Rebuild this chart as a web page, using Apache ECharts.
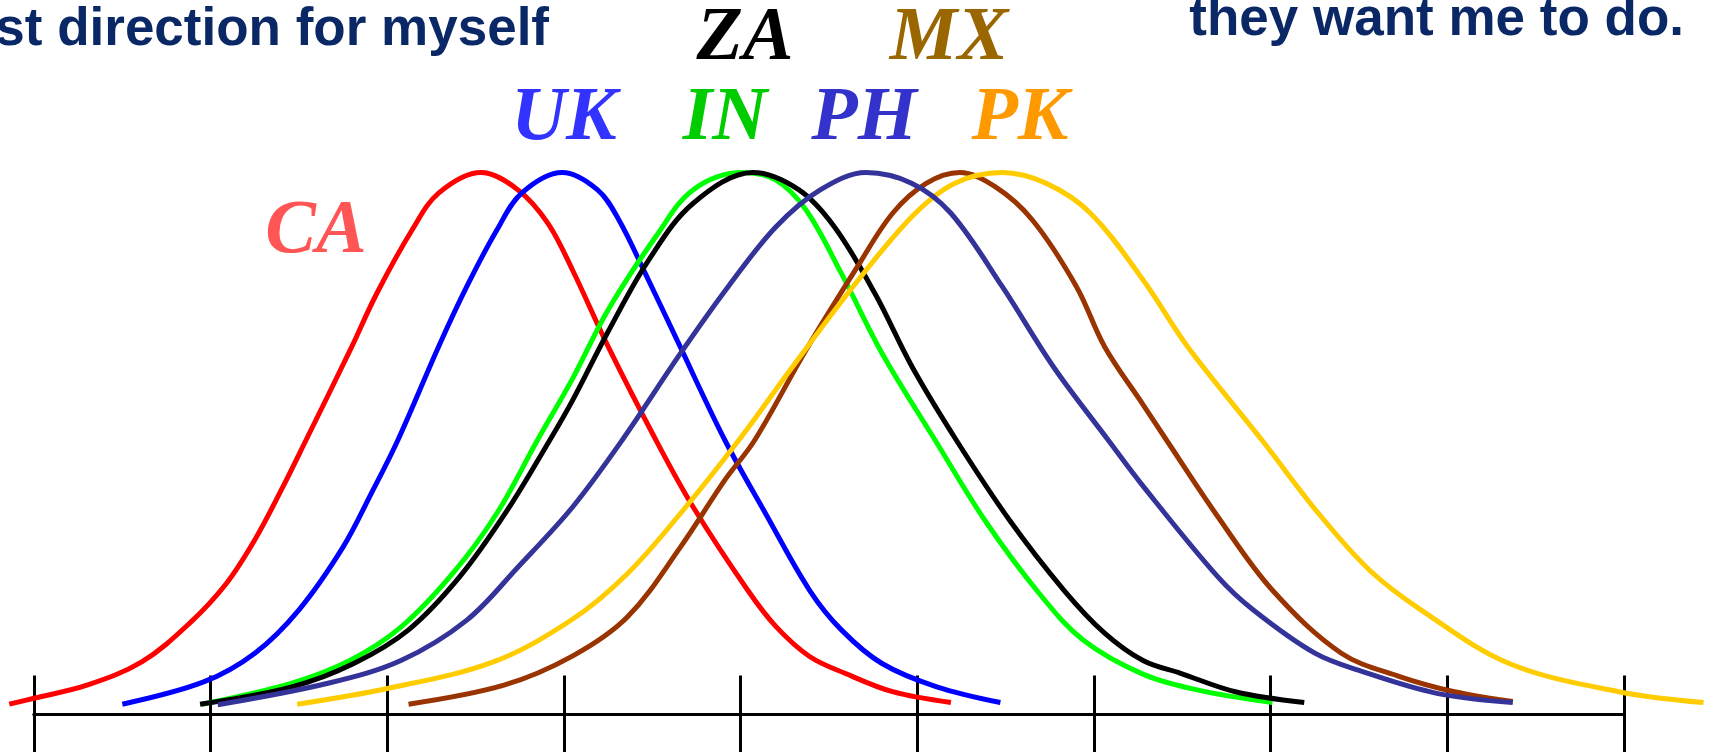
<!DOCTYPE html>
<html lang="en">
<head>
<meta charset="UTF-8">
<title>Distributions</title>
<style>
  html, body { margin: 0; padding: 0; background: #fff; }
  #chart { width: 1716px; height: 752px; }
</style>
</head>
<body>
<div id="chart"></div>

<script src="https://cdn.jsdelivr.net/npm/echarts@6/dist/echarts.min.js"></script>
<script>
    // curves, [x, y] with y as % of peak, x in axis tick units
    var ca = [[-0.14,1.9],[0,3.0],[0.30,5.4],[0.61,9.7],[0.88,16.8],[1.09,24.2],[1.25,32.2],[1.40,41.4],[1.54,50.6],[1.79,67.2],[1.94,77.6],[2.14,89.3],[2.29,96.1],[2.53,99.9],[2.74,96.7],[2.91,90.5],[3.05,81.8],[3.25,67.8],[3.52,50.6],[3.73,38.3],[4.04,22.9],[4.20,16.2],[4.39,10.7],[4.59,7.6],[4.86,4.2],[5.19,2.2]];
    var uk = [[0.50,1.9],[0.96,6.0],[1.25,11.3],[1.50,19.3],[1.75,30.9],[1.91,40.8],[2.06,50.6],[2.29,67.8],[2.45,78.9],[2.62,89.3],[2.76,96.1],[2.99,99.9],[3.19,96.7],[3.31,91.2],[3.46,81.3],[3.64,69.0],[3.91,50.6],[4.14,37.1],[4.39,22.9],[4.57,15.6],[4.80,9.4],[5.11,5.1],[5.47,2.2]];
    var inn = [[0.95,1.9],[1.46,5.8],[1.79,10.0],[2.08,16.2],[2.37,26.0],[2.62,37.1],[2.85,50.6],[3.05,62.0],[3.25,74.6],[3.52,88.1],[3.73,96.7],[4.01,99.9],[4.20,98.5],[4.37,93.0],[4.57,81.3],[4.80,66.6],[5.10,50.6],[5.38,35.9],[5.69,22.3],[5.94,13.7],[6.28,7.4],[6.59,4.5],[7.01,2.2]];
    var za = [[0.94,1.9],[1.46,5.1],[1.81,9.4],[2.12,15.6],[2.41,25.4],[2.68,37.7],[2.92,50.6],[3.05,58.0],[3.25,70.6],[3.48,83.8],[3.73,94.2],[4.07,99.9],[4.33,96.7],[4.53,89.9],[4.76,77.6],[4.97,64.1],[5.22,50.6],[5.52,35.9],[5.83,22.9],[6.06,15.0],[6.28,9.9],[6.49,7.6],[6.80,4.2],[7.19,2.2]];
    var ph = [[1.04,1.8],[1.67,5.8],[2.08,10.0],[2.45,17.4],[2.74,27.2],[3.05,38.3],[3.33,50.6],[3.66,66.6],[3.93,78.9],[4.20,89.9],[4.45,96.7],[4.71,99.9],[4.97,97.9],[5.19,92.4],[5.48,78.9],[5.77,64.1],[6.08,50.6],[6.28,42.0],[6.70,25.4],[6.90,19.3],[7.25,11.3],[7.52,7.9],[7.94,3.9],[8.37,2.2]];
    var pk = [[1.49,1.9],[2.00,4.8],[2.60,9.7],[3.05,17.6],[3.36,26.0],[3.66,37.1],[3.99,50.6],[4.28,63.5],[4.62,78.2],[4.97,91.8],[5.21,97.9],[5.48,99.9],[5.73,97.9],[5.98,92.4],[6.28,80.0],[6.53,67.8],[6.95,50.6],[7.27,37.1],[7.56,26.6],[7.85,19.3],[8.35,9.4],[8.97,4.2],[9.45,2.2]];
    var mx = [[2.12,1.9],[2.66,5.4],[3.05,10.8],[3.36,18.0],[3.66,30.9],[3.91,43.2],[4.08,50.6],[4.37,67.2],[4.66,82.5],[4.86,92.4],[5.05,97.9],[5.24,99.9],[5.44,97.3],[5.65,91.2],[5.90,78.9],[6.06,67.8],[6.28,57.0],[6.41,50.6],[6.70,36.5],[7.01,22.9],[7.40,11.3],[7.73,7.0],[8.04,4.2],[8.37,2.4]];

    // drawn axis runs 0..9, curves overhang a little on both ends
    var axisMin = 0, axisMax = 9;
    var plotMin = -0.15, plotMax = 9.5;
    var tickPx = 176.67, axisLeft = 34;

    var chart = echarts.init(document.getElementById('chart'));

    function curve(name, color, data) {
        return {
            name: name,
            type: 'line',
            data: data,
            smooth: 0.35,
            symbol: 'none',
            animation: false,
            xAxisIndex: 0,
            yAxisIndex: 0,
            lineStyle: { color: color, width: 5 }
        };
    }

    function label(text, color, x, y) {
        return {
            type: 'text', x: x, y: y, silent: true,
            style: {
                text: text, fill: color,
                font: 'italic bold 76px "Liberation Serif"',
                textAlign: 'center', textVerticalAlign: 'middle',
                align: 'center', verticalAlign: 'middle'
            }
        };
    }

    function topText(text, x, y) {
        return {
            type: 'text', x: x, y: y, silent: true,
            style: {
                text: text, fill: '#0b2866',
                font: 'bold 53px "Liberation Sans"',
                textAlign: 'right', textVerticalAlign: 'middle',
                align: 'right', verticalAlign: 'middle'
            }
        };
    }

    function tickAxis(gridIndex, inside, len) {
        return {
            type: 'value',
            gridIndex: gridIndex,
            min: axisMin,
            max: axisMax,
            interval: 1,
            axisLine: { show: true, lineStyle: { color: '#000', width: 3 } },
            axisTick: { show: true, inside: inside, length: len, lineStyle: { color: '#000', width: 3 } },
            axisLabel: { show: false },
            splitLine: { show: false }
        };
    }

    var plotLeft = axisLeft + plotMin * tickPx;
    var plotRight = 1716 - (axisLeft + plotMax * tickPx);

    chart.setOption({
        animation: false,
        backgroundColor: '#fff',
        grid: [
            { left: plotLeft, right: plotRight, top: 172, bottom: 37.5 },
            { left: 34, right: 92, bottom: 37.5, height: 10 },
            { left: 34, right: 92, bottom: 37.5, height: 10 }
        ],
        xAxis: [
            { type: 'value', gridIndex: 0, min: plotMin, max: plotMax, show: false },
            tickAxis(1, true, 39),
            tickAxis(2, false, 38)
        ],
        yAxis: [
            { type: 'value', gridIndex: 0, min: 0, max: 100, show: false },
            { type: 'value', gridIndex: 1, min: 0, max: 1, show: false },
            { type: 'value', gridIndex: 2, min: 0, max: 1, show: false }
        ],
        graphic: [
            topText('st direction for myself', 549, 30),
            topText('they want me to do.', 1684, 20),
            label('CA', '#ff5555', 316, 232),
            label('UK', '#3333ff', 564, 119),
            label('IN', '#00cc00', 725, 119),
            label('PH', '#3333cc', 864, 119),
            label('PK', '#ff9900', 1020, 119),
            label('ZA', '#000000', 745, 39),
            label('MX', '#996600', 949, 39)
        ],
        series: [
            curve('CA', '#ff0000', ca),
            curve('UK', '#0000ff', uk),
            curve('IN', '#00ff00', inn),
            curve('ZA', '#000000', za),
            curve('MX', '#993300', mx),
            curve('PK', '#ffcc00', pk),
            curve('PH', '#333399', ph)
        ]
    });
</script>
</body>
</html>
